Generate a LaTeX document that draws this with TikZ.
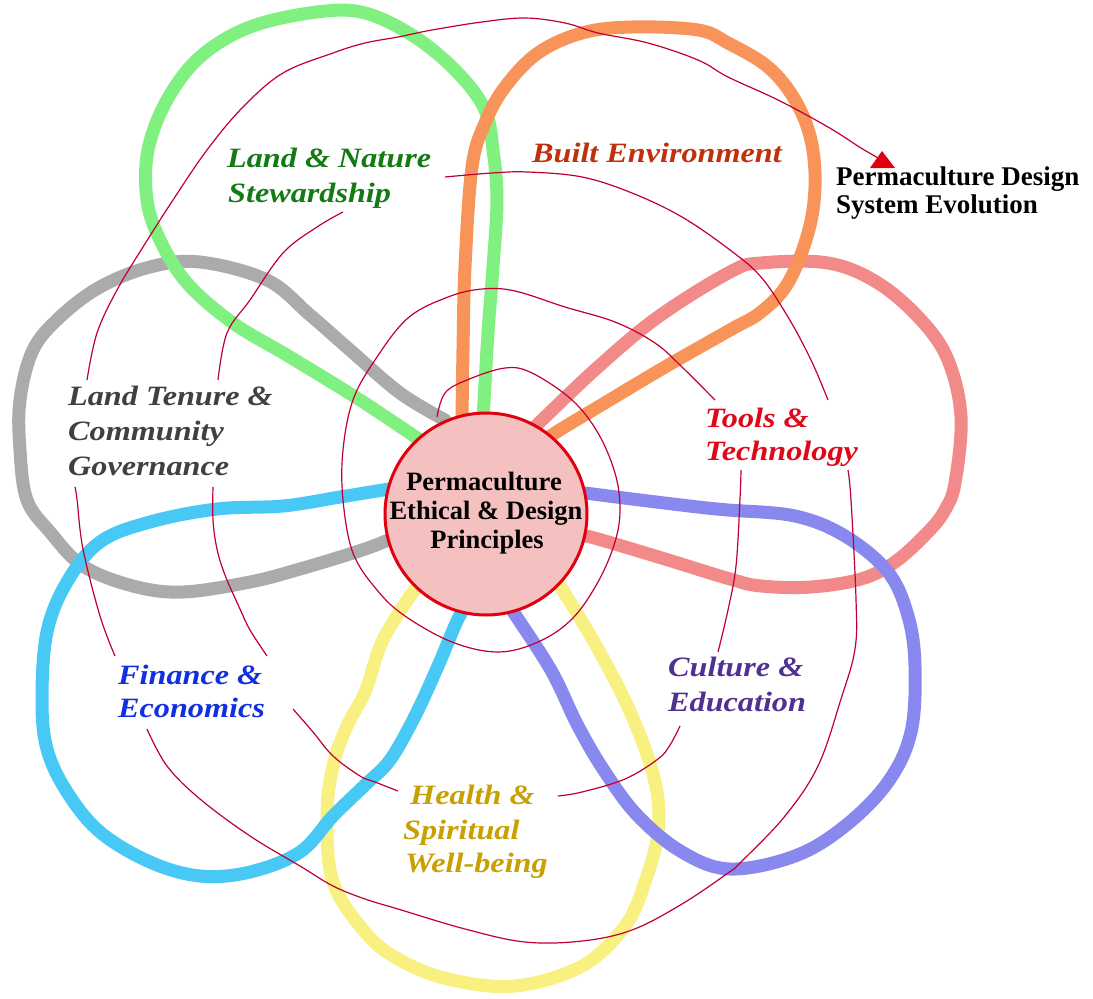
\documentclass[tikz,border=0pt]{standalone}
\usepackage{fontspec}
\setmainfont{Liberation Serif}
\newfontfamily\labfont[FakeStretch=1.15]{Liberation Serif}
\definecolor{pgreen}{HTML}{80F080}
\definecolor{porange}{HTML}{F8945A}
\definecolor{ppink}{HTML}{F28A8A}
\definecolor{pviolet}{HTML}{8888EE}
\definecolor{pyellow}{HTML}{F8F080}
\definecolor{pcyan}{HTML}{48C8F4}
\definecolor{pgray}{HTML}{ABABAB}
\definecolor{cred}{HTML}{E00010}
\definecolor{cpink}{HTML}{F4C0C0}
\definecolor{spiralred}{HTML}{C00030}
\definecolor{tgreen}{HTML}{147A14}
\definecolor{tbrown}{HTML}{C0300C}
\definecolor{tred}{HTML}{E00818}
\definecolor{tpurple}{HTML}{503090}
\definecolor{tgold}{HTML}{C8A000}
\definecolor{tblue}{HTML}{1030E0}
\definecolor{tgray}{HTML}{404040}
\begin{document}
\begin{tikzpicture}[x=1pt,y=-1pt,
  petal/.style={line width=13pt, line join=round, line cap=round},
  spiral/.style={draw=spiralred, line width=1.2pt},
  lab/.style={anchor=base west, inner sep=0pt, font=\labfont\bfseries\itshape\fontsize{28}{34}\selectfont},
  ctext/.style={anchor=base, inner sep=0pt, font=\bfseries\fontsize{26.5}{30}\selectfont},
  rtext/.style={anchor=base west, inner sep=0pt, font=\bfseries\fontsize{27}{30}\selectfont},
]
\fill[white] (0,0) rectangle (1093,999);
\useasboundingbox (0,0) rectangle (1093,999);

% petals
\draw[petal, draw=pgray] plot[smooth, tension=0.6] coordinates {(445,420) (400,393) (350,350) (310,315) (267,280) (200,262) (150,267) (100,287) (60,317) (33,350) (20,400) (20,450) (27,500) (50,532) (83,566) (133,586) (183,592) (250,582) (300,569) (365,549) (400,535)};
\draw[petal, draw=pyellow] plot[smooth, tension=0.6] coordinates {(420,585) (408,599) (382,642) (365,692) (347,726) (333,766) (327,816) (333,882) (365,932) (398,959) (448,979) (515,986) (582,966) (625,926) (645,882) (658,832) (655,782) (632,716) (598,649) (562,589) (555,580)};
\draw[petal, draw=ppink] plot[smooth, tension=0.6] coordinates {(530,432) (542,420) (598,367) (658,317) (730,272) (761,263) (828,263) (878,283) (921,320) (948,360) (961,417) (955,483) (945,510) (928,532) (895,562) (861,579) (811,587) (761,586) (730,579) (665,559) (598,539) (580,535)};
\draw[petal, draw=pgreen] plot[smooth, tension=0.6] coordinates {(420,440) (360,400) (290,357) (233,323) (187,283) (160,240) (147,200) (148,150) (167,100) (200,57) (250,27) (317,12) (365,13) (415,37) (458,73) (485,110) (493,150) (497,200) (493,267) (488,333) (483,420)};
\draw[petal, draw=porange] plot[smooth, tension=0.6] coordinates {(462,420) (463,350) (465,267) (472,167) (485,123) (505,87) (538,53) (582,33) (632,27) (698,30) (728,43) (768,67) (795,100) (811,140) (815,187) (808,233) (788,283) (761,312) (730,330) (665,367) (598,407) (555,433) (540,445)};
\draw[petal, draw=pcyan] plot[smooth, tension=0.6] coordinates {(470,600) (458,619) (438,666) (415,716) (390,760) (365,785) (333,816) (300,852) (250,872) (200,876) (150,862) (100,832) (67,792) (47,749) (42,699) (47,632) (67,582) (100,542) (150,522) (217,509) (283,506) (340,497) (383,490) (400,487)};
\draw[petal, draw=pviolet] plot[smooth, tension=0.6] coordinates {(585,493) (640,500) (698,507) (728,510) (795,516) (845,536) (888,572) (908,616) (915,666) (911,732) (888,782) (845,826) (795,856) (730,869) (682,852) (638,816) (605,772) (578,726) (552,672) (518,619) (505,600)};

% spiral
\draw[spiral] plot[smooth, tension=0.6] coordinates {(437,417) (445,393) (467,380) (505,368) (532,373) (572,400) (598,433) (615,473) (620,509) (615,542) (598,582) (572,619) (538,642) (498,652) (452,642) (405,616) (377,590) (353,553) (343,500) (343,450) (353,400) (375,360) (408,318) (448,297) (482,289) (515,291) (565,307) (615,322) (655,343) (682,367) (715,400)};
\draw[spiral] plot[smooth, tension=0.6] coordinates {(741,470) (740,499) (736,566) (728,610) (718,652)};
\draw[spiral] plot[smooth, tension=0.6] coordinates {(680,726) (670,745) (658,759) (625,779) (582,792) (558,796)};
\draw[spiral] plot[smooth, tension=0.6] coordinates {(398,791) (375,782) (360,776) (333,756) (313,732) (293,709)};
\draw[spiral] plot[smooth, tension=0.6] coordinates {(267,656) (250,630) (240,609) (225,575) (217,549) (213,520) (213,487)};
\draw[spiral] plot[smooth, tension=0.6] coordinates {(218,380) (227,333) (250,300) (283,253) (317,227) (343,212)};
\draw[spiral] plot[smooth, tension=0.6] coordinates {(445,177) (492,173) (528,172) (582,177) (632,193) (682,217) (730,250) (761,277) (788,317) (811,360) (828,400)};
\draw[spiral] plot[smooth, tension=0.6] coordinates {(848,470) (851,500) (856,599) (855,649) (841,699) (818,766) (785,816) (741,862) (728,873) (682,904) (632,930) (582,941) (525,942) (465,929) (398,909) (365,899) (333,886) (300,866) (250,836) (200,799) (167,766) (147,729)};
\draw[spiral] plot[smooth, tension=0.6] coordinates {(115,656) (100,616) (83,549) (77,499) (75,487)};
\coordinate (tip) at (880,159);
\draw[spiral] plot[smooth, tension=0.6] coordinates {(87,380) (97,333) (117,290) (143,247) (173,200) (207,150) (243,107) (283,73) (333,53) (365,43) (398,37) (432,30) (482,22) (525,18) (565,23) (598,33) (648,43) (698,60) (728,77) (778,100) (828,127) (861,148) (tip)};
\fill[cred] (882,151) -- (870,168) -- (895,168) -- cycle;

% center
\node[circle, draw=cred, line width=3pt, fill=cpink, minimum size=202pt, inner sep=0pt] (core) at (486,514) {};
\node[ctext] (c1) at (484,490) {Permaculture};
\node[ctext] (c2) at (486,519) {Ethical \& Design};
\node[ctext] (c3) at (487,548) {Principles};

% labels
\node[lab, text=tgreen] (l1a) at (227,167) {Land \& Nature};
\node[lab, text=tgreen] (l1b) at (228,202) {Stewardship};
\node[lab, text=tbrown] (l2) at (532,162) {Built Environment};
\node[lab, text=tred] (l3a) at (705,427) {Tools \&};
\node[lab, text=tred] (l3b) at (705,460) {Technology};
\node[lab, text=tpurple] (l4a) at (668,676) {Culture \&};
\node[lab, text=tpurple] (l4b) at (668,711) {Education};
\node[lab, text=tgold] (l5a) at (410,804) {Health \&};
\node[lab, text=tgold] (l5b) at (403,839) {Spiritual};
\node[lab, text=tgold] (l5c) at (405,872) {Well-being};
\node[lab, text=tblue] (l6a) at (118,684) {Finance \&};
\node[lab, text=tblue] (l6b) at (118,717) {Economics};
\node[lab, text=tgray] (l7a) at (68,405) {Land Tenure \&};
\node[lab, text=tgray] (l7b) at (68,440) {Community};
\node[lab, text=tgray] (l7c) at (68,475) {Governance};
\node[rtext] (r1) at (836,185) {Permaculture Design};
\node[rtext] (r2) at (836,213) {System Evolution};
\end{tikzpicture}
\end{document}
